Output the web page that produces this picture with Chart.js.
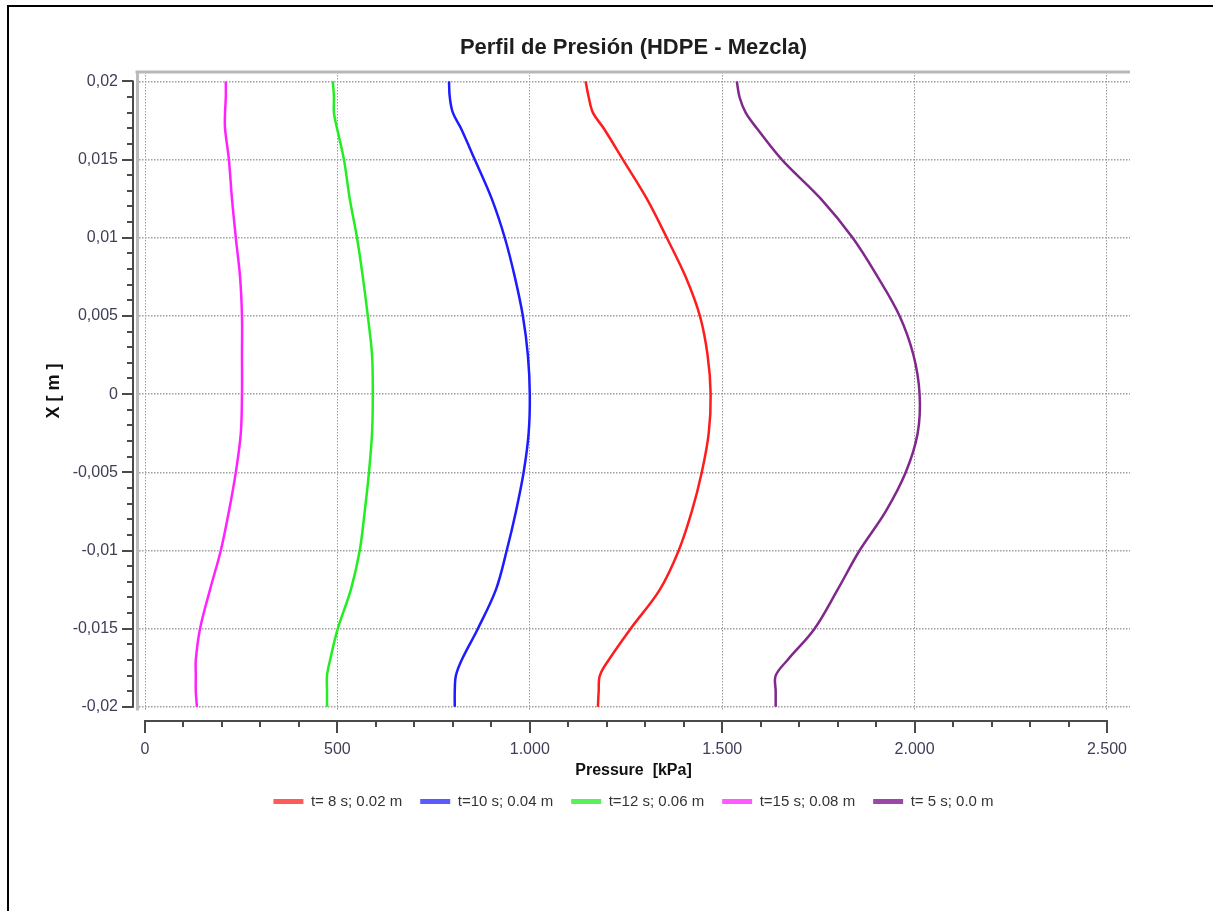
<!DOCTYPE html>
<html>
<head>
<meta charset="utf-8">
<script src="https://cdn.jsdelivr.net/npm/chart.js@4.4.1/dist/chart.umd.min.js"></script>
<style>
  html, body { margin: 0; padding: 0; background: #ffffff; }
  #wrap { position: relative; width: 1213px; height: 911px; overflow: hidden; }
  #c { position: absolute; left: 0; top: 0; }
  #frame { position: absolute; left: 7px; top: 5px; right: -5px; bottom: -5px;
           border-top: 2px solid #000; border-left: 2px solid #000; pointer-events: none; }
</style>
</head>
<body>
<div id="wrap">
  <canvas id="c" width="1213" height="911"></canvas>
  <div id="frame"></div>
</div>
<script>
// ---------------- data ----------------
const chartTitle = 'Perfil de Presión (HDPE - Mezcla)';
const xAxisTitle = 'Pressure  [kPa]';
const yAxisTitle = 'X [ m ]';

// position along the pipe, X [m]
const positionX = [0.02, 0.019, 0.018, 0.017, 0.015, 0.0125, 0.01, 0.0075, 0.005, 0.0025, 0,
                   -0.0025, -0.005, -0.0075, -0.01, -0.0125, -0.015, -0.017, -0.018, -0.019, -0.02];

// pressure [kPa] for each series
const pressureT8  = [1145, 1153, 1164, 1192, 1242, 1304, 1356, 1405, 1442, 1462, 1470,
                     1465, 1447, 1421, 1387, 1338, 1262, 1205, 1182, 1179, 1177];
const pressureT10 = [790, 792, 800, 821, 857, 901, 935, 961, 982, 995, 1000,
                     997, 984, 964, 940, 912, 865, 823, 808, 805, 805];
const pressureT12 = [488, 491, 491, 499, 517, 532, 551, 566, 579, 590, 592,
                     590, 582, 571, 558, 535, 501, 481, 473, 473, 473];
const pressureT15 = [210, 210, 208, 208, 218, 226, 236, 247, 252, 252, 252,
                     249, 236, 218, 197, 169, 143, 132, 132, 132, 135];
const pressureT5  = [1538, 1545, 1561, 1590, 1655, 1756, 1839, 1904, 1961, 1997, 2013,
                     2008, 1977, 1925, 1857, 1800, 1740, 1670, 1639, 1639, 1639];

const seriesLabels = ['t= 8 s; 0.02 m', 't=10 s; 0.04 m', 't=12 s; 0.06 m', 't=15 s; 0.08 m', 't= 5 s; 0.0 m'];
const seriesValues = [pressureT8, pressureT10, pressureT12, pressureT15, pressureT5];
const seriesColors = ['#ff1c1c', '#1c1cff', '#22ee22', '#ff22ff', '#80288c'];
const legendColors = ['#ff5a5a', '#5a5aff', '#5af05a', '#ff5aff', '#9a4aa6'];

// tick labels
const xTickValues = [0, 500, 1000, 1500, 2000, 2500];
const xTickLabels = ['0', '500', '1.000', '1.500', '2.000', '2.500'];
const xMinorPerMajor = 5;
const yTickValues = [-0.02, -0.015, -0.01, -0.005, 0, 0.005, 0.01, 0.015, 0.02];
const yTickLabels = ['-0,02', '-0,015', '-0,01', '-0,005', '0', '0,005', '0,01', '0,015', '0,02'];
const yMinorPerMajor = 5;

// ---------------- chart ----------------
Chart.defaults.font.family = "'Liberation Sans', Arial, sans-serif";

const datasets = seriesValues.map((vals, i) => ({
  label: seriesLabels[i],
  data: vals.map((p, k) => ({ x: p, y: positionX[k] })),
  borderColor: seriesColors[i],
  backgroundColor: legendColors[i],
  borderWidth: 2.5,
  pointRadius: 0,
  showLine: true,
  tension: 0.35,
  fill: false
}));

const offsetAxes = {
  id: 'offsetAxes',
  afterDraw(chart) {
    const { ctx, chartArea: a, scales: { x, y } } = chart;
    ctx.save();
    ctx.lineCap = 'butt';
    // top frame
    ctx.strokeStyle = '#b8b8b8';
    ctx.lineWidth = 3;
    ctx.beginPath();
    ctx.moveTo(a.left - 1.5, a.top);
    ctx.lineTo(a.right, a.top);
    ctx.stroke();

    ctx.strokeStyle = '#4a4a4a';
    // x axis (offset below plot)
    const ay = a.bottom + 11;
    const x0 = x.getPixelForValue(xTickValues[0]);
    const x1 = x.getPixelForValue(xTickValues[xTickValues.length - 1]);
    ctx.lineWidth = 2;
    ctx.beginPath(); ctx.moveTo(x0 - 1, ay); ctx.lineTo(x1 + 1, ay); ctx.stroke();
    const xStep = (xTickValues[1] - xTickValues[0]) / xMinorPerMajor;
    const nX = (xTickValues.length - 1) * xMinorPerMajor;
    for (let i = 0; i <= nX; i++) {
      const px = Math.round(x.getPixelForValue(xTickValues[0] + i * xStep));
      const len = (i % xMinorPerMajor === 0) ? 12 : 6;
      ctx.beginPath(); ctx.moveTo(px, ay); ctx.lineTo(px, ay + len); ctx.stroke();
    }
    // y axis (offset left of plot)
    const ax = a.left - 4;
    const y0 = y.getPixelForValue(yTickValues[0]);
    const y1 = y.getPixelForValue(yTickValues[yTickValues.length - 1]);
    ctx.beginPath(); ctx.moveTo(ax, y0 + 1); ctx.lineTo(ax, y1 - 1); ctx.stroke();
    const yStep = (yTickValues[1] - yTickValues[0]) / yMinorPerMajor;
    const nY = (yTickValues.length - 1) * yMinorPerMajor;
    for (let i = 0; i <= nY; i++) {
      const py = Math.round(y.getPixelForValue(yTickValues[0] + i * yStep));
      const len = (i % yMinorPerMajor === 0) ? 11 : 6;
      ctx.beginPath(); ctx.moveTo(ax, py); ctx.lineTo(ax - len, py); ctx.stroke();
    }
    ctx.restore();
  }
};

const tickColor = '#3e3e56';

new Chart(document.getElementById('c'), {
  type: 'scatter',
  data: { datasets },
  options: {
    responsive: false,
    animation: false,
    devicePixelRatio: 1,
    layout: { padding: { left: 8, right: 83, top: 0, bottom: 92 } },
    plugins: {
      title: {
        display: true, text: chartTitle, fullSize: false, color: '#1e1e1e',
        font: { size: 22, weight: 'bold' }, padding: { top: 35, bottom: 10.6 }
      },
      legend: {
        position: 'bottom', fullSize: false,
        labels: {
          boxWidth: 30, boxHeight: 5, padding: 18, color: '#333333',
          font: { size: 15 },
          generateLabels: (chart) => Chart.defaults.plugins.legend.labels.generateLabels(chart)
            .map(l => Object.assign(l, { lineWidth: 0 }))
        }
      },
      tooltip: { enabled: false }
    },
    scales: {
      x: {
        type: 'linear', min: -20.8, max: 2559.8,
        afterBuildTicks: s => { s.ticks = xTickValues.map(v => ({ value: v })); },
        afterFit: s => { s.height = 66; },
        ticks: { autoSkip: false, maxRotation: 0, padding: 30, color: tickColor, font: { size: 16 },
                 callback: (v, i) => xTickLabels[i] },
        grid: { drawTicks: false, color: '#9c9c9c', lineWidth: 1 },
        border: { display: false, dash: [1.5, 1.5] },
        title: { display: true, text: xAxisTitle, color: '#111111',
                 font: { size: 16, weight: 'bold' }, padding: { top: 0, bottom: -4 } }
      },
      y: {
        type: 'linear', min: -0.0202, max: 0.0206,
        afterBuildTicks: s => { s.ticks = yTickValues.map(v => ({ value: v })); },
        afterFit: s => { s.width = 129; },
        ticks: { autoSkip: false, padding: 19, color: tickColor, font: { size: 16 },
                 callback: (v, i) => yTickLabels[i] },
        grid: { drawTicks: false, color: '#a0a0a0', lineWidth: 1.6 },
        border: { display: true, color: '#bcbcbc', width: 3, dash: [1.5, 1.5] },
        title: { display: true, text: yAxisTitle, color: '#111111',
                 font: { size: 18, weight: 'bold' }, padding: { top: 35, bottom: 0 } }
      }
    }
  },
  plugins: [offsetAxes]
});
</script>
</body>
</html>
